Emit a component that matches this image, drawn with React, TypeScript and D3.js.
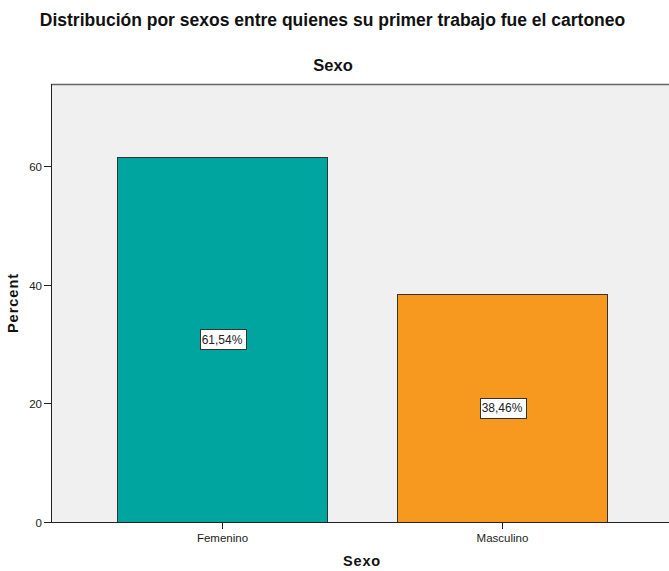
import React, { useEffect, useRef } from "react";
import * as d3 from "d3";

const categories = ["Femenino", "Masculino"];
const values = [61.54, 38.46];
const labels = ["61,54%", "38,46%"];
const colors = ["#00A59F", "#F8991F"];
const yTicks = [0, 20, 40, 60];
const title = "Distribución por sexos entre quienes su primer trabajo fue el cartoneo";
const subtitle = "Sexo";
const xTitle = "Sexo";
const yTitle = "Percent";

const W = 669, H = 571;
const M = { left: 51, right: -4, top: 84, bottom: 49 };

export default function App() {
  const ref = useRef<SVGSVGElement>(null);
  useEffect(() => {
    const svg = d3.select(ref.current);
    svg.selectAll("*").remove();
    const font = "'Liberation Sans', Arial, sans-serif";
    const x0 = M.left, x1 = W - M.right, y0 = H - M.bottom, y1 = M.top;
    const x = d3.scaleBand().domain(categories).range([x0, x1]).paddingInner(0.25).paddingOuter(0.2357);
    const y = d3.scaleLinear().domain([0, d3.max(values)! * 1.2]).range([y0, y1]);

    svg.append("rect").attr("x", 0).attr("y", 0).attr("width", W).attr("height", H).attr("fill", "#fff");
    svg.append("rect").attr("x", x0).attr("y", y1).attr("width", x1 - x0).attr("height", y0 - y1).attr("fill", "#F0F0F0");
    svg.append("line").attr("x1", x0).attr("x2", x1).attr("y1", y1 + 0.5).attr("y2", y1 + 0.5).attr("stroke", "#666").attr("stroke-width", 1.5);

    const g = svg.append("g");
    categories.forEach((c, i) => {
      g.append("rect")
        .attr("x", Math.round(x(c)!) + 0.5).attr("y", Math.round(y(values[i])) + 0.5)
        .attr("width", Math.round(x.bandwidth())).attr("height", y0 - Math.round(y(values[i])))
        .attr("fill", colors[i]).attr("stroke", "#333").attr("stroke-width", 1);
    });

    // axes
    svg.append("line").attr("x1", x0 + 0.5).attr("x2", x0 + 0.5).attr("y1", y1).attr("y2", y0).attr("stroke", "#222");
    svg.append("line").attr("x1", x0).attr("x2", x1).attr("y1", y0 + 0.5).attr("y2", y0 + 0.5).attr("stroke", "#222");
    yTicks.forEach(t => {
      const yy = Math.round(y(t)) + 0.5;
      svg.append("line").attr("x1", x0 - 7).attr("x2", x0).attr("y1", yy).attr("y2", yy).attr("stroke", "#222");
      svg.append("text").attr("x", x0 - 9).attr("y", yy + 4).attr("text-anchor", "end")
        .attr("font-family", font).attr("font-size", 11.5).attr("fill", "#222").text(t);
    });
    categories.forEach(c => {
      const xx = Math.round(x(c)! + x.bandwidth() / 2) + 0.5;
      svg.append("line").attr("x1", xx).attr("x2", xx).attr("y1", y0).attr("y2", y0 + 7).attr("stroke", "#222");
      svg.append("text").attr("x", xx).attr("y", y0 + 20).attr("text-anchor", "middle")
        .attr("font-family", font).attr("font-size", 11.5).attr("fill", "#222").text(c);
    });

    // value labels
    categories.forEach((c, i) => {
      const cx = x(c)! + x.bandwidth() / 2;
      const cy = y(values[i] / 2);
      const t = svg.append("text").attr("x", cx).attr("y", cy + 4.5).attr("text-anchor", "middle")
        .attr("font-family", font).attr("font-size", 12).attr("fill", "#222").text(labels[i]);
      const bb = (t.node() as SVGTextElement).getBBox();
      svg.insert("rect", () => t.node() as any)
        .attr("x", Math.round(bb.x - 2) + 0.5).attr("y", Math.round(cy - 10) + 0.5)
        .attr("width", Math.round(bb.width + 5)).attr("height", 20)
        .attr("fill", "#fff").attr("stroke", "#333").attr("stroke-width", 1);
    });

    svg.append("text").attr("x", W / 2 - 2).attr("y", 26).attr("text-anchor", "middle")
      .attr("font-family", font).attr("font-size", 17.5).attr("font-weight", "bold").attr("fill", "#111").text(title);
    svg.append("text").attr("x", 333).attr("y", 71).attr("text-anchor", "middle")
      .attr("font-family", font).attr("font-size", 16.5).attr("font-weight", "bold").attr("fill", "#111").text(subtitle);
    svg.append("text").attr("x", 362).attr("y", 566).attr("text-anchor", "middle")
      .attr("font-family", font).attr("font-size", 14.5).attr("font-weight", "bold").attr("letter-spacing", 0.8).attr("fill", "#111").text(xTitle);
    svg.append("text").attr("transform", `translate(18,303) rotate(-90)`).attr("text-anchor", "middle")
      .attr("font-family", font).attr("font-size", 14.5).attr("font-weight", "bold").attr("letter-spacing", 1).attr("fill", "#111").text(yTitle);
  }, []);
  return <svg ref={ref} width={W} height={H} style={{ position: "absolute", left: 0, top: 0, display: "block" }} />;
}
